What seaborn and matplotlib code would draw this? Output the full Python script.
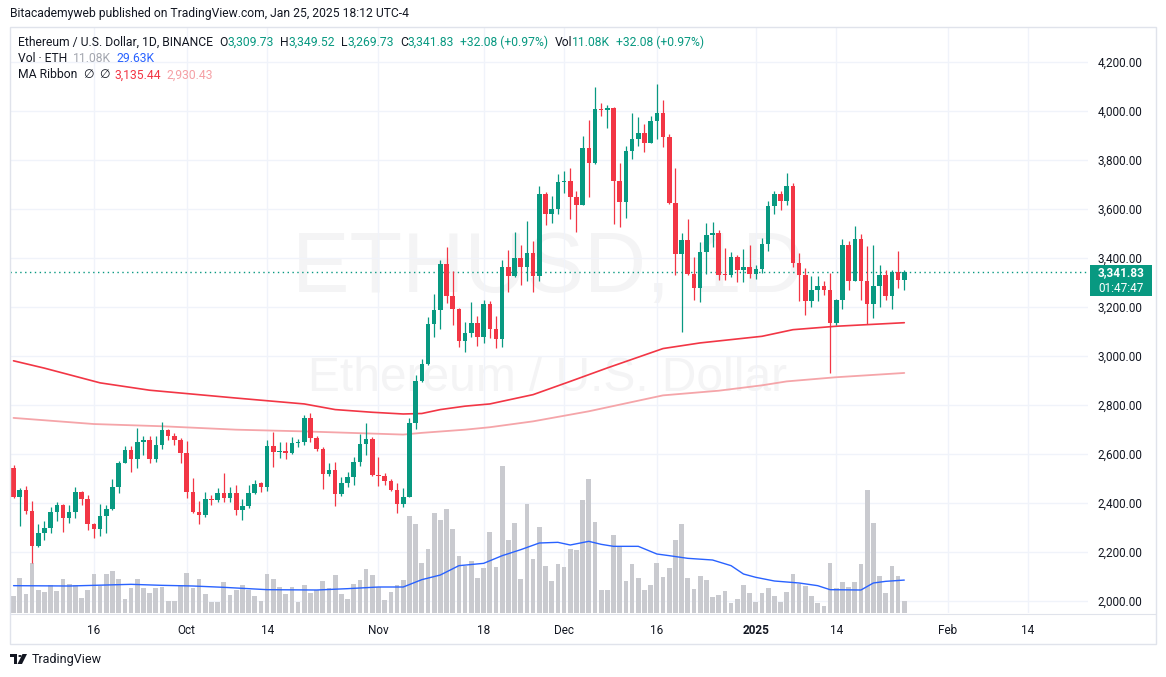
import numpy as np
import pandas as pd
import matplotlib
matplotlib.use("Agg")
import matplotlib.pyplot as plt
import matplotlib.dates as mdates
from matplotlib.patches import Rectangle, Polygon, Circle
from matplotlib.lines import Line2D
import seaborn as sns

# ---------------- data (daily candles ETH/USD, Binance) ----------------
start_date = "2024-09-03"
opens = [2543, 2425, 2453, 2369, 2226, 2278, 2298, 2363, 2392, 2340,
         2363, 2445, 2418, 2316, 2295, 2347, 2377, 2465, 2563, 2616,
         2581, 2649, 2657, 2581, 2637, 2699, 2675, 2657, 2604, 2446,
         2365, 2350, 2416, 2414, 2439, 2422, 2439, 2370, 2386, 2439,
         2480, 2467, 2631, 2606, 2611, 2604, 2643, 2650, 2747, 2665,
         2622, 2520, 2535, 2437, 2480, 2506, 2567, 2641, 2661, 2514,
         2512, 2491, 2454, 2397, 2425, 2727, 2897, 2967, 3130, 3188,
         3375, 3246, 3193, 3060, 3092, 3133, 3076, 3212, 3111, 3071,
         3363, 3328, 3400, 3363, 3420, 3328, 3661, 3579, 3600, 3710,
         3712, 3647, 3617, 3848, 3789, 4008, 4002, 4012, 3715, 3629,
         3836, 3885, 3910, 3870, 3959, 3992, 3893, 3624, 3417, 3472,
         3336, 3279, 3424, 3493, 3502, 3332, 3331, 3404, 3351, 3363,
         3336, 3356, 3457, 3612, 3661, 3634, 3693, 3379, 3329, 3222,
         3269, 3287, 3268, 3136, 3230, 3453, 3307, 3477, 3307, 3213,
         3286, 3330, 3243, 3344, 3309.73]
highs = [2556, 2460, 2469, 2407, 2314, 2325, 2382, 2405, 2395, 2393,
         2465, 2448, 2431, 2320, 2396, 2393, 2498, 2573, 2631, 2631,
         2706, 2673, 2672, 2672, 2731, 2701, 2687, 2665, 2652, 2502,
         2406, 2445, 2434, 2459, 2522, 2467, 2472, 2416, 2475, 2495,
         2486, 2657, 2688, 2650, 2650, 2671, 2660, 2760, 2767, 2675,
         2629, 2562, 2567, 2505, 2525, 2588, 2682, 2726, 2668, 2588,
         2521, 2498, 2482, 2459, 2747, 2924, 2989, 3159, 3253, 3392,
         3445, 3345, 3196, 3138, 3220, 3163, 3228, 3222, 3163, 3391,
         3432, 3506, 3453, 3549, 3468, 3693, 3669, 3653, 3741, 3753,
         3767, 3672, 3897, 3963, 4097, 4032, 4024, 4014, 3787, 3855,
         3991, 3975, 3946, 3980, 4110, 4044, 3906, 3767, 3502, 3559,
         3404, 3465, 3541, 3546, 3514, 3440, 3424, 3413, 3436, 3454,
         3370, 3480, 3634, 3672, 3672, 3747, 3706, 3419, 3359, 3326,
         3326, 3305, 3339, 3232, 3476, 3468, 3529, 3499, 3450, 3453,
         3370, 3351, 3351, 3430, 3349.52]
lows = [2421, 2308, 2353, 2153, 2222, 2248, 2278, 2325, 2283, 2318,
        2338, 2390, 2291, 2257, 2267, 2279, 2373, 2440, 2561, 2527,
        2543, 2597, 2561, 2566, 2622, 2657, 2638, 2563, 2422, 2357,
        2314, 2344, 2393, 2403, 2403, 2403, 2351, 2331, 2381, 2438,
        2444, 2448, 2547, 2584, 2580, 2600, 2630, 2638, 2648, 2610,
        2455, 2508, 2389, 2430, 2464, 2475, 2552, 2597, 2508, 2471,
        2472, 2450, 2361, 2385, 2423, 2702, 2894, 2962, 3076, 3111,
        3215, 3125, 3038, 3016, 3079, 3042, 3053, 3073, 3032, 3038,
        3262, 3321, 3291, 3306, 3260, 3307, 3536, 3544, 3579, 3666,
        3560, 3507, 3617, 3650, 3783, 3980, 3930, 3540, 3527, 3564,
        3804, 3857, 3833, 3870, 3885, 3852, 3620, 3332, 3098, 3330,
        3230, 3221, 3336, 3444, 3309, 3309, 3323, 3303, 3303, 3317,
        3315, 3340, 3427, 3581, 3597, 3617, 3362, 3223, 3166, 3198,
        3223, 3247, 2932, 3128, 3192, 3268, 3307, 3228, 3129, 3154,
        3201, 3228, 3190, 3277, 3269.73]
closes = [2425, 2453, 2369, 2226, 2278, 2298, 2363, 2392, 2340, 2363,
          2445, 2418, 2316, 2295, 2347, 2377, 2465, 2563, 2616, 2581,
          2649, 2657, 2581, 2637, 2699, 2675, 2657, 2604, 2446, 2365,
          2350, 2416, 2414, 2439, 2422, 2439, 2370, 2386, 2439, 2476,
          2467, 2631, 2606, 2611, 2604, 2643, 2650, 2747, 2665, 2622,
          2520, 2535, 2437, 2480, 2506, 2567, 2641, 2661, 2514, 2512,
          2491, 2454, 2397, 2425, 2727, 2897, 2967, 3130, 3188, 3375,
          3246, 3193, 3060, 3092, 3133, 3076, 3212, 3111, 3071, 3363,
          3328, 3400, 3363, 3420, 3328, 3661, 3579, 3600, 3710, 3712,
          3647, 3617, 3848, 3789, 4008, 4002, 4012, 3715, 3629, 3836,
          3885, 3910, 3870, 3959, 3992, 3893, 3624, 3417, 3472, 3336,
          3279, 3424, 3493, 3502, 3332, 3331, 3404, 3351, 3363, 3336,
          3356, 3457, 3612, 3661, 3634, 3693, 3379, 3329, 3222, 3269,
          3287, 3268, 3136, 3230, 3453, 3307, 3477, 3307, 3213, 3286,
          3330, 3243, 3344, 3310, 3341.83]
volumes_k = [15.6, 31.5, 17.1, 45.0, 20.7, 18.9, 25.2, 19.8, 30.6, 26.1,
             25.2, 13.5, 20.7, 35.1, 24.3, 35.1, 37.8, 30.6, 12.6, 22.5,
             30.6, 22.5, 18.0, 22.5, 23.4, 10.8, 10.8, 25.2, 36.0, 22.5,
             30.6, 17.1, 9.9, 9.9, 27.9, 16.2, 20.7, 25.2, 20.7, 15.3,
             10.8, 35.1, 30.6, 23.4, 17.1, 23.4, 9.9, 25.2, 18.0, 20.7,
             28.8, 22.5, 34.2, 17.1, 12.6, 26.1, 29.7, 39.6, 34.2, 23.4,
             11.7, 18.9, 25.2, 29.7, 87.3, 80.1, 45.0, 57.6, 90.0, 83.7,
             93.6, 75.6, 51.3, 42.6, 46.8, 31.5, 40.5, 72.9, 41.4, 132.3,
             65.7, 81.0, 30.6, 98.1, 48.6, 77.4, 42.3, 28.8, 44.1, 41.4,
             57.6, 56.7, 101.7, 120.6, 81.9, 20.7, 20.7, 70.2, 59.4, 28.8,
             44.1, 31.5, 20.7, 25.2, 45.0, 32.4, 40.5, 65.7, 80.1, 31.5,
             21.6, 33.3, 29.7, 14.4, 16.2, 19.8, 9.0, 12.6, 25.2, 18.0,
             9.9, 18.0, 22.5, 15.3, 9.9, 18.9, 35.1, 26.1, 24.3, 15.3,
             9.0, 6.3, 45.0, 22.5, 27.9, 23.4, 27.9, 44.1, 110.7, 81.0,
             33.3, 18.0, 42.3, 33.3, 11.08]

# indicator lines
ma1_dates = ["2024-09-03", "2024-09-08", "2024-09-17", "2024-09-25", "2024-10-09",
             "2024-10-20", "2024-10-25", "2024-10-31", "2024-11-05", "2024-11-08",
             "2024-11-11", "2024-11-15", "2024-11-19", "2024-11-26", "2024-12-02",
             "2024-12-08", "2024-12-17", "2024-12-23", "2025-01-02", "2025-01-07",
             "2025-01-14", "2025-01-25"]
ma1_vals = [2980, 2950, 2890, 2860, 2828, 2804, 2781, 2770, 2763, 2765,
            2781, 2795, 2804, 2842, 2896, 2951, 3030, 3053, 3080, 3107,
            3121, 3135.44]
ma2_dates = ["2024-09-03", "2024-09-16", "2024-09-27", "2024-10-09", "2024-10-20",
             "2024-11-05", "2024-11-08", "2024-11-15", "2024-11-19", "2024-11-26",
             "2024-12-05", "2024-12-17", "2024-12-26", "2025-01-02", "2025-01-06",
             "2025-01-14", "2025-01-25"]
ma2_vals = [2747, 2722, 2713, 2699, 2692, 2679, 2686, 2699, 2709, 2733,
            2774, 2839, 2858, 2880, 2896, 2913, 2930.43]
volma_dates = ["2024-09-03", "2024-09-12", "2024-09-22", "2024-09-27", "2024-10-02",
               "2024-10-07", "2024-10-14", "2024-10-22", "2024-10-27", "2024-11-01",
               "2024-11-05", "2024-11-08", "2024-11-11", "2024-11-14", "2024-11-18",
               "2024-11-21", "2024-11-24", "2024-11-27", "2024-11-30", "2024-12-02",
               "2024-12-05", "2024-12-07", "2024-12-09", "2024-12-13", "2024-12-16",
               "2024-12-18", "2024-12-21", "2024-12-25", "2024-12-28", "2024-12-30",
               "2025-01-01", "2025-01-04", "2025-01-08", "2025-01-11", "2025-01-13",
               "2025-01-18", "2025-01-20", "2025-01-22", "2025-01-25"]
volma_vals = [24.6, 24.3, 25.8, 24.9, 24.3, 23.1, 21.0, 20.7, 21.9, 23.4,
              23.4, 30.0, 34.2, 42.6, 44.7, 51.6, 57.0, 63.0, 63.6, 61.2,
              64.5, 61.8, 60.0, 60.0, 53.1, 51.6, 49.2, 47.7, 42.6, 35.1,
              32.1, 28.8, 27.0, 24.6, 21.0, 20.7, 27.0, 28.5, 29.63]

price_ticks = [2000, 2200, 2400, 2600, 2800, 3000, 3200, 3400, 3600, 3800, 4000, 4200]
time_tick_dates = ["2024-09-16", "2024-10-01", "2024-10-14", "2024-11-01", "2024-11-18",
                   "2024-12-01", "2024-12-16", "2025-01-01", "2025-01-14", "2025-02-01",
                   "2025-02-14"]
time_tick_labels = ["16", "Oct", "14", "Nov", "18", "Dec", "16", "2025", "14", "Feb", "14"]

# ---------------- styling ----------------
UP = "#089981"
DN = "#f23645"
TXT = "#131722"
GRID = "#f0f3fa"
FS = 8.7

sns.set_theme(style="white")
plt.rcParams["font.family"] = ["Roboto", "DejaVu Sans"]

W, H = 1166, 677
fig = plt.figure(figsize=(W / 100, H / 100), dpi=100)
fig.patch.set_facecolor("white")


def fx(px):
    return px / W


def fy(py):
    return 1 - py / H


rect = [fx(10), fy(613), (1088 - 10) / W, (613 - 27) / H]
ax_g = fig.add_axes(rect)
ax_v = fig.add_axes(rect, sharex=ax_g)
ax = fig.add_axes(rect, sharex=ax_g)
for a in (ax_g, ax_v, ax):
    a.set_facecolor("none")
    for s in a.spines.values():
        s.set_visible(False)
ax_g.set_facecolor("white")

dates = pd.date_range(start_date, periods=len(opens), freq="D")
d0 = mdates.date2num(dates[0])
ax_g.set_xlim(d0 - 0.57, d0 + 173.7)
p_lo, p_hi = 1951, 4342
ax_g.set_ylim(p_lo, p_hi)
ax.set_ylim(p_lo, p_hi)
ax_v.set_ylim(0, 586 * 0.9)

# grid + watermark
ax_g.set_yticks(price_ticks)
ax_g.grid(True, color=GRID, lw=1)
ax_g.tick_params(labelbottom=False, labelleft=False, length=0)
ax_g.text(0.499, 0.585, "ETHUSD, 1D", transform=ax_g.transAxes, ha="center", va="center",
          fontsize=62, color="#f4f4f5", family="Liberation Sans", zorder=0)
ax_g.text(0.499, 0.401, "Ethereum / U.S. Dollar", transform=ax_g.transAxes, ha="center",
          va="center", fontsize=34.5, color="#f4f4f5", family="Liberation Sans", zorder=0)

# volume
ax_v.bar(dates, volumes_k, width=0.76, color="#c9cacf", linewidth=0, zorder=2)
sns.lineplot(x=pd.to_datetime(volma_dates), y=volma_vals, ax=ax_v, color="#2962ff",
             lw=1.0, zorder=3)
ax_v.set_xlabel("")
ax_v.set_ylabel("")
ax_v.set_yticks([])
ax_v.tick_params(labelbottom=False, length=0)

# MA ribbon
sns.lineplot(x=pd.to_datetime(ma2_dates), y=ma2_vals, ax=ax, color="#f5a5a9", lw=1.3, zorder=2)
sns.lineplot(x=pd.to_datetime(ma1_dates), y=ma1_vals, ax=ax, color="#f23645", lw=1.2, zorder=2)

# candles
o = np.array(opens, dtype=float)
c = np.array(closes, dtype=float)
hi = np.array(highs, dtype=float)
lo = np.array(lows, dtype=float)
cols = np.where(c >= o, UP, DN)
ax.vlines(dates, lo, hi, colors=cols, linewidth=0.9, zorder=3)
bot = np.minimum(o, c)
hgt = np.abs(c - o)
small = hgt < 4
bot = np.where(small, (o + c) / 2 - 2, bot)
hgt = np.where(small, 4, hgt)
ax.bar(dates, hgt, bottom=bot, width=0.74, color=cols, linewidth=0, zorder=4)

# last price line
ax.axhline(closes[-1], color=UP, lw=1, linestyle=(0, (1, 2.5)), zorder=2)

# axes ticks
ax.set_xlabel("")
ax.set_ylabel("")
ax.yaxis.tick_right()
ax.set_yticks(price_ticks)
ax.set_yticklabels([f"{v:,.2f}" for v in price_ticks])
ax.tick_params(axis="y", length=0, pad=7, labelsize=8.5, labelcolor=TXT)
ax.set_xticks(pd.to_datetime(time_tick_dates))
ax.set_xticklabels(time_tick_labels)
ax.tick_params(axis="x", length=0, pad=8, labelsize=8.5, labelcolor=TXT)
for lab in ax.get_xticklabels():
    if lab.get_text() == "2025":
        lab.set_fontweight("bold")
ax.grid(False)
ax_g.set_xlim(d0 - 0.57, d0 + 173.7)

# frame
fig.add_artist(Rectangle((fx(10), fy(644)), (1156 - 10) / W, (644 - 27) / H,
                         transform=fig.transFigure, fill=False, edgecolor="#e0e3eb", lw=1))
fig.add_artist(Line2D([fx(10), fx(1156)], [fy(613.5), fy(613.5)], transform=fig.transFigure,
                      color="#e0e3eb", lw=0.8))

# last price tag
fig.add_artist(Rectangle((fx(1090), fy(296)), 62 / W, 31 / H, transform=fig.transFigure,
                         facecolor=UP, edgecolor="none"))
fig.text(fx(1121), fy(273), "3,341.83", color="white", fontsize=8.5, fontweight="bold",
         ha="center", va="center")
fig.text(fx(1121), fy(288), "01:47:47", color="white", fontsize=8.5, ha="center", va="center")

# header and legend texts
fig.text(fx(10), fy(14), "Bitacademyweb published on TradingView.com, Jan 25, 2025 18:12 UTC-4",
         color=TXT, fontsize=FS, ha="left", va="center")

fig.canvas.draw()
renderer = fig.canvas.get_renderer()


def seq_text(x_px, y_px, parts, size=FS):
    x = x_px
    for s, col, gap in parts:
        t = fig.text(fx(x), fy(y_px), s, color=col, fontsize=size, ha="left", va="center")
        bb = t.get_window_extent(renderer)
        x += bb.width + gap


seq_text(18, 42, [("Ethereum / U.S. Dollar, 1D, BINANCE", TXT, 6),
                  ("O", TXT, 0), ("3,309.73", UP, 6), ("H", TXT, 0), ("3,349.52", UP, 6),
                  ("L", TXT, 0), ("3,269.73", UP, 6), ("C", TXT, 0), ("3,341.83", UP, 6),
                  ("+32.08 (+0.97%)", UP, 6), ("Vol", TXT, 0), ("11.08K", UP, 6),
                  ("+32.08 (+0.97%)", UP, 0)])
seq_text(18, 59, [("Vol \u00b7 ETH", TXT, 6), ("11.08K", "#a3a6af", 5), ("29.63K", "#2962ff", 0)])
seq_text(18, 75, [("MA Ribbon", TXT, 6), ("\u2205", TXT, 5), ("\u2205", TXT, 5),
                  ("3,135.44", "#f23645", 5), ("2,930.43", "#f5a0a5", 0)])

# TradingView logo
fig.add_artist(Rectangle((fx(10), fy(657)), 7 / W, 3 / H, transform=fig.transFigure,
                         facecolor=TXT, edgecolor="none"))
fig.add_artist(Rectangle((fx(13.5), fy(664)), 3.5 / W, 10 / H, transform=fig.transFigure,
                         facecolor=TXT, edgecolor="none"))
fig.add_artist(Circle((fx(20), fy(656)), 1.7 / W, transform=fig.transFigure, facecolor=TXT,
                      edgecolor="none"))
fig.add_artist(Polygon([(fx(22.5), fy(654)), (fx(27), fy(654)), (fx(22), fy(664)),
                        (fx(17.5), fy(664))], closed=True, transform=fig.transFigure,
                       facecolor=TXT, edgecolor="none"))
fig.text(fx(32), fy(659), "TradingView", color=TXT, fontsize=9, ha="left", va="center")

fig.savefig("out.png", dpi=100, facecolor="white")
